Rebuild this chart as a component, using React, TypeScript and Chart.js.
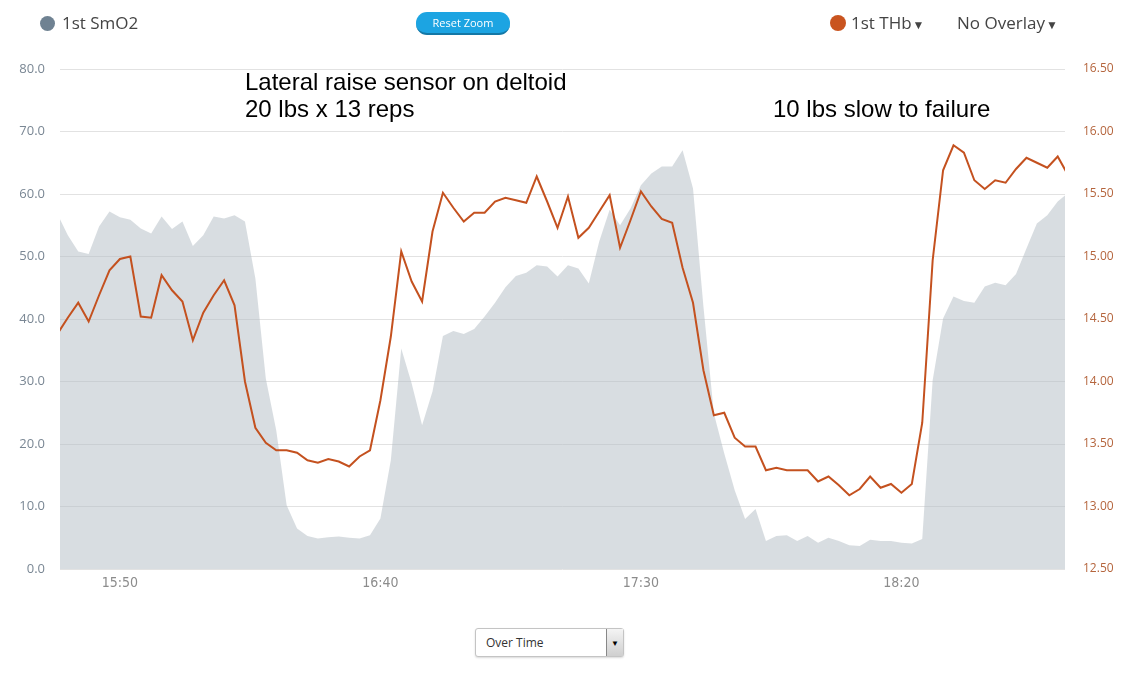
import React, { useEffect, useRef } from "react";
import { Chart, registerables } from "chart.js";

Chart.register(...registerables);

// ---- data (sampled every 2 minutes, starting 15:38) ----
const START_TIME = "15:38";
const STEP_MINUTES = 2;

// visible (zoomed) window, in "HH:MM:SS"
const VIEW_START = "15:38:30";
const VIEW_END = "18:51:24";

const xTickLabels = ["15:50", "16:40", "17:30", "18:20"];
const leftTicks = [0, 10, 20, 30, 40, 50, 60, 70, 80];
const rightTicks = [12.5, 13, 13.5, 14, 14.5, 15, 15.5, 16, 16.5];

const smo2 = [
  56.8, 53.4, 50.8, 50.4, 54.8, 57.2, 56.3, 55.9, 54.5, 53.7,
  56.4, 54.4, 55.6, 51.7, 53.4, 56.4, 56.1, 56.6, 55.6, 46.5,
  30.5, 22.2, 10.2, 6.5, 5.3, 4.9, 5.1, 5.2, 5.0, 4.9,
  5.4, 8.1, 17.4, 35.3, 29.7, 23.0, 28.4, 37.3, 38.1, 37.6,
  38.4, 40.4, 42.6, 45.1, 46.9, 47.4, 48.6, 48.4, 46.8, 48.6,
  48.1, 45.7, 52.4, 57.5, 55.0, 57.7, 61.4, 63.3, 64.4, 64.4,
  67.0, 60.9, 42.0, 24.9, 18.5, 12.6, 8.0, 9.6, 4.5, 5.3,
  5.4, 4.5, 5.3, 4.2, 5.0, 4.5, 3.8, 3.7, 4.7, 4.5,
  4.5, 4.2, 4.1, 4.8, 30.2, 40.1, 43.6, 42.9, 42.6, 45.2,
  45.8, 45.4, 47.2, 51.3, 55.3, 56.6, 58.8, 60.2,
];

const thb = [
  14.38, 14.51, 14.63, 14.48, 14.69, 14.89, 14.98, 15.0, 14.52, 14.51,
  14.85, 14.73, 14.64, 14.33, 14.55, 14.69, 14.81, 14.61, 14.0, 13.63,
  13.51, 13.45, 13.45, 13.43, 13.37, 13.35, 13.38, 13.36, 13.32, 13.4,
  13.45, 13.85, 14.36, 15.04, 14.8, 14.64, 15.2, 15.51, 15.39, 15.28,
  15.35, 15.35, 15.44, 15.47, 15.45, 15.43, 15.64, 15.44, 15.23, 15.48,
  15.15, 15.23, 15.36, 15.49, 15.07, 15.29, 15.52, 15.4, 15.3, 15.27,
  14.91, 14.63, 14.09, 13.73, 13.75, 13.55, 13.48, 13.48, 13.29, 13.31,
  13.29, 13.29, 13.29, 13.2, 13.24, 13.17, 13.09, 13.14, 13.24, 13.15,
  13.18, 13.11, 13.18, 13.67, 14.97, 15.69, 15.89, 15.83, 15.61, 15.54,
  15.61, 15.59, 15.7, 15.79, 15.75, 15.71, 15.8, 15.65,
];

// ---- helpers ----
const toMin = (s: string) => {
  const p = s.split(":").map(Number);
  return p[0] * 60 + p[1] + (p[2] || 0) / 60;
};
const fmt = (m: number) => {
  const h = Math.floor(m / 60);
  const mm = Math.round(m - h * 60);
  return `${h}:${String(mm).padStart(2, "0")}`;
};
const sampleTimes = smo2.map((_, i) => toMin(START_TIME) + i * STEP_MINUTES);

const GRID = "#e2e2e2";
const FILL = "rgba(178,187,196,0.5)";
const ORANGE = "#c4511f";

export default function App() {
  const ref = useRef<HTMLCanvasElement | null>(null);

  useEffect(() => {
    if (!ref.current) return;
    const chart = new Chart(ref.current, {
      type: "line",
      data: {
        datasets: [
          {
            label: "1st THb",
            data: thb.map((v, i) => ({ x: sampleTimes[i], y: v })),
            yAxisID: "y1",
            borderColor: ORANGE,
            borderWidth: 2,
            pointRadius: 0,
            tension: 0,
            fill: false,
            order: 0,
          },
          {
            label: "1st SmO2",
            data: smo2.map((v, i) => ({ x: sampleTimes[i], y: v })),
            yAxisID: "y",
            borderWidth: 0,
            borderColor: "rgba(0,0,0,0)",
            backgroundColor: FILL,
            pointRadius: 0,
            tension: 0,
            fill: "origin",
            order: 1,
          },
        ],
      },
      options: {
        responsive: false,
        animation: false,
        devicePixelRatio: 1,
        layout: { padding: { top: 69, left: 0, right: 0, bottom: 0 } },
        plugins: { legend: { display: false }, tooltip: { enabled: false } },
        scales: {
          x: {
            type: "linear",
            min: toMin(VIEW_START),
            max: toMin(VIEW_END),
            grid: { display: false, drawTicks: false },
            border: { display: false },
            afterBuildTicks: (s: any) => {
              s.ticks = xTickLabels.map((t) => ({ value: toMin(t) }));
            },
            afterFit: (s: any) => {
              s.height = 31;
            },
            ticks: {
              autoSkip: false,
              maxRotation: 0,
              padding: 6,
              color: "#8c8c8c",
              font: { family: "'Liberation Sans Narrow', 'DejaVu Sans Condensed', 'Open Sans'", size: 14 },
              callback: (v: any) => fmt(Number(v)),
            },
          },
          y: {
            position: "left",
            min: leftTicks[0],
            max: leftTicks[leftTicks.length - 1],
            afterBuildTicks: (s: any) => {
              s.ticks = leftTicks.map((v) => ({ value: v }));
            },
            afterFit: (s: any) => {
              s.width = 60;
            },
            grid: { color: GRID, lineWidth: 1, drawTicks: false },
            border: { display: false },
            ticks: {
              padding: 15,
              color: "#7a8794",
              font: { family: "'Open Sans'", size: 13 },
              callback: (v: any) => Number(v).toFixed(1),
            },
          },
          y1: {
            position: "right",
            min: rightTicks[0],
            max: rightTicks[rightTicks.length - 1],
            afterBuildTicks: (s: any) => {
              s.ticks = rightTicks.map((v) => ({ value: v }));
            },
            afterFit: (s: any) => {
              s.width = 66;
            },
            grid: { display: false, drawTicks: false },
            border: { display: false },
            ticks: {
              padding: 18,
              color: "#b5653d",
              font: { family: "'Open Sans'", size: 12 },
              callback: (v: any) => Number(v).toFixed(2),
            },
          },
        },
      } as any,
    });
    return () => chart.destroy();
  }, []);

  const legendText: React.CSSProperties = {
    position: "absolute",
    fontFamily: "'Open Sans', sans-serif",
    fontSize: 17,
    color: "#444",
    lineHeight: "20px",
    whiteSpace: "nowrap",
  };
  const note: React.CSSProperties = {
    position: "absolute",
    fontFamily: "'Liberation Sans', Arial, sans-serif",
    fontSize: 24,
    lineHeight: "27px",
    color: "#000",
    whiteSpace: "nowrap",
  };

  return (
    <div style={{ position: "absolute", left: 0, top: 0, width: 1131, height: 677, background: "#fff", overflow: "hidden" }}>
      <canvas ref={ref} width={1131} height={600} style={{ position: "absolute", left: 0, top: 0, width: 1131, height: 600 }} />

      {/* legend left */}
      <div style={{ position: "absolute", left: 40, top: 16, width: 15, height: 15, borderRadius: "50%", background: "#6f8292" }} />
      <div style={{ ...legendText, left: 62, top: 13 }}>1st SmO2</div>

      {/* reset zoom */}
      <div
        style={{
          position: "absolute",
          left: 416,
          top: 12,
          width: 94,
          height: 21,
          borderRadius: 11,
          background: "#1ca4e2",
          borderBottom: "2px solid #1478a6",
          color: "#fff",
          fontFamily: "'Open Sans', sans-serif",
          fontSize: 11,
          lineHeight: "21px",
          textAlign: "center",
        }}
      >
        Reset Zoom
      </div>

      {/* legend right */}
      <div style={{ position: "absolute", left: 830, top: 15, width: 16, height: 16, borderRadius: "50%", background: "#c9541f" }} />
      <div style={{ ...legendText, left: 851, top: 13 }}>
        1st THb<span style={{ fontSize: 12, marginLeft: 1 }}>▼</span>
      </div>
      <div style={{ ...legendText, left: 957, top: 13 }}>
        No Overlay<span style={{ fontSize: 12, marginLeft: 1 }}>▼</span>
      </div>

      {/* annotations */}
      <div style={{ ...note, left: 245, top: 68 }}>
        Lateral raise sensor on deltoid
        <br />
        20 lbs x 13 reps
      </div>
      <div style={{ ...note, left: 773, top: 95 }}>10 lbs slow to failure</div>

      {/* select */}
      <div
        style={{
          position: "absolute",
          left: 475,
          top: 628,
          width: 147,
          height: 27,
          border: "1px solid #c4c4c4",
          borderRadius: 3,
          boxShadow: "0 1px 2px rgba(0,0,0,0.15)",
          background: "#fff",
          fontFamily: "'Open Sans', sans-serif",
          fontSize: 12,
          color: "#333",
          lineHeight: "27px",
        }}
      >
        <span style={{ position: "absolute", left: 10, top: 0 }}>Over Time</span>
        <div
          style={{
            position: "absolute",
            right: 0,
            top: 0,
            width: 16,
            height: 27,
            borderLeft: "1px solid #888",
            background: "linear-gradient(#f4f4f4, #cfcfcf)",
            fontSize: 8,
            lineHeight: "27px",
            textAlign: "center",
            color: "#000",
          }}
        >
          ▼
        </div>
      </div>
    </div>
  );
}
